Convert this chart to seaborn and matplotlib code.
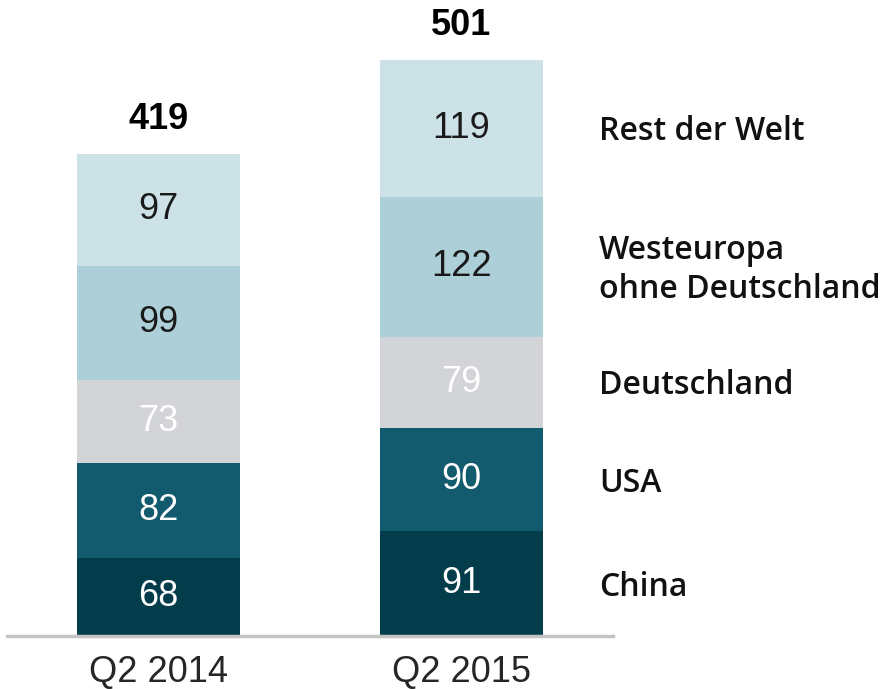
import matplotlib
matplotlib.use('Agg')
import matplotlib.pyplot as plt
import numpy as np
import pandas as pd
import seaborn as sns

quarters = ['Q2 2014', 'Q2 2015']
regions = ['China', 'USA', 'Deutschland', 'Westeuropa\nohne Deutschland', 'Rest der Welt']
china = [68, 91]
usa = [82, 90]
deutschland = [73, 79]
westeuropa = [99, 122]
rest = [97, 119]

colors = ['#033d4c', '#125a6e', '#d3d4d7', '#add0d8', '#cde2e7']
text_colors = ['white', 'white', 'white', '#1a1a1a', '#1a1a1a']

sns.set_style('white')
plt.rcParams['font.family'] = ['Liberation Sans', 'DejaVu Sans']
label_font = ['Open Sans', 'DejaVu Sans']

layers = [china, usa, deutschland, westeuropa, rest]
df = pd.DataFrame({'Quarter': quarters})
for name, vals in zip(regions, layers):
    df[name] = vals
cum = df[regions].cumsum(axis=1)

fig = plt.figure(figsize=(8.88, 6.89), dpi=100)
ax = fig.add_axes([7 / 888, 53 / 689, 606 / 888, 636 / 689])

# draw cumulative totals from top down so lower layers overlay
for i in reversed(range(len(regions))):
    sns.barplot(x='Quarter', y=cum[regions[i]], data=df.assign(**{regions[i]: cum[regions[i]]}),
                order=quarters, color=colors[i], width=0.54, ax=ax,
                saturation=1, linewidth=0, errorbar=None)

ax.set_xlim(-0.5, 1.5)
ax.set_ylim(0, 553)

for j in range(len(quarters)):
    bottom = 0
    for i, vals in enumerate(layers):
        ax.text(j, bottom + vals[j] / 2, str(vals[j]), ha='center', va='center',
                fontsize=26, color=text_colors[i])
        bottom += vals[j]
    ax.text(j, bottom + 30, str(bottom), ha='center', va='center',
            fontsize=26, fontweight='bold', color='black')

# region labels next to the second bar
bottom = 0
for i, vals in enumerate(layers):
    ax.text(1.454, bottom + vals[1] / 2 - 3, regions[i], ha='left', va='center',
            fontsize=23, fontweight='semibold', color='#111111', family=label_font,
            clip_on=False, linespacing=1.25)
    bottom += vals[1]

sns.despine(ax=ax, left=True)
ax.spines['bottom'].set_color('#c4c4c4')
ax.spines['bottom'].set_linewidth(2.5)
ax.set_yticks([])
ax.set_xlabel('')
ax.set_ylabel('')
ax.tick_params(axis='x', length=0, pad=14, labelsize=26)

fig.savefig('out.png', dpi=100)
